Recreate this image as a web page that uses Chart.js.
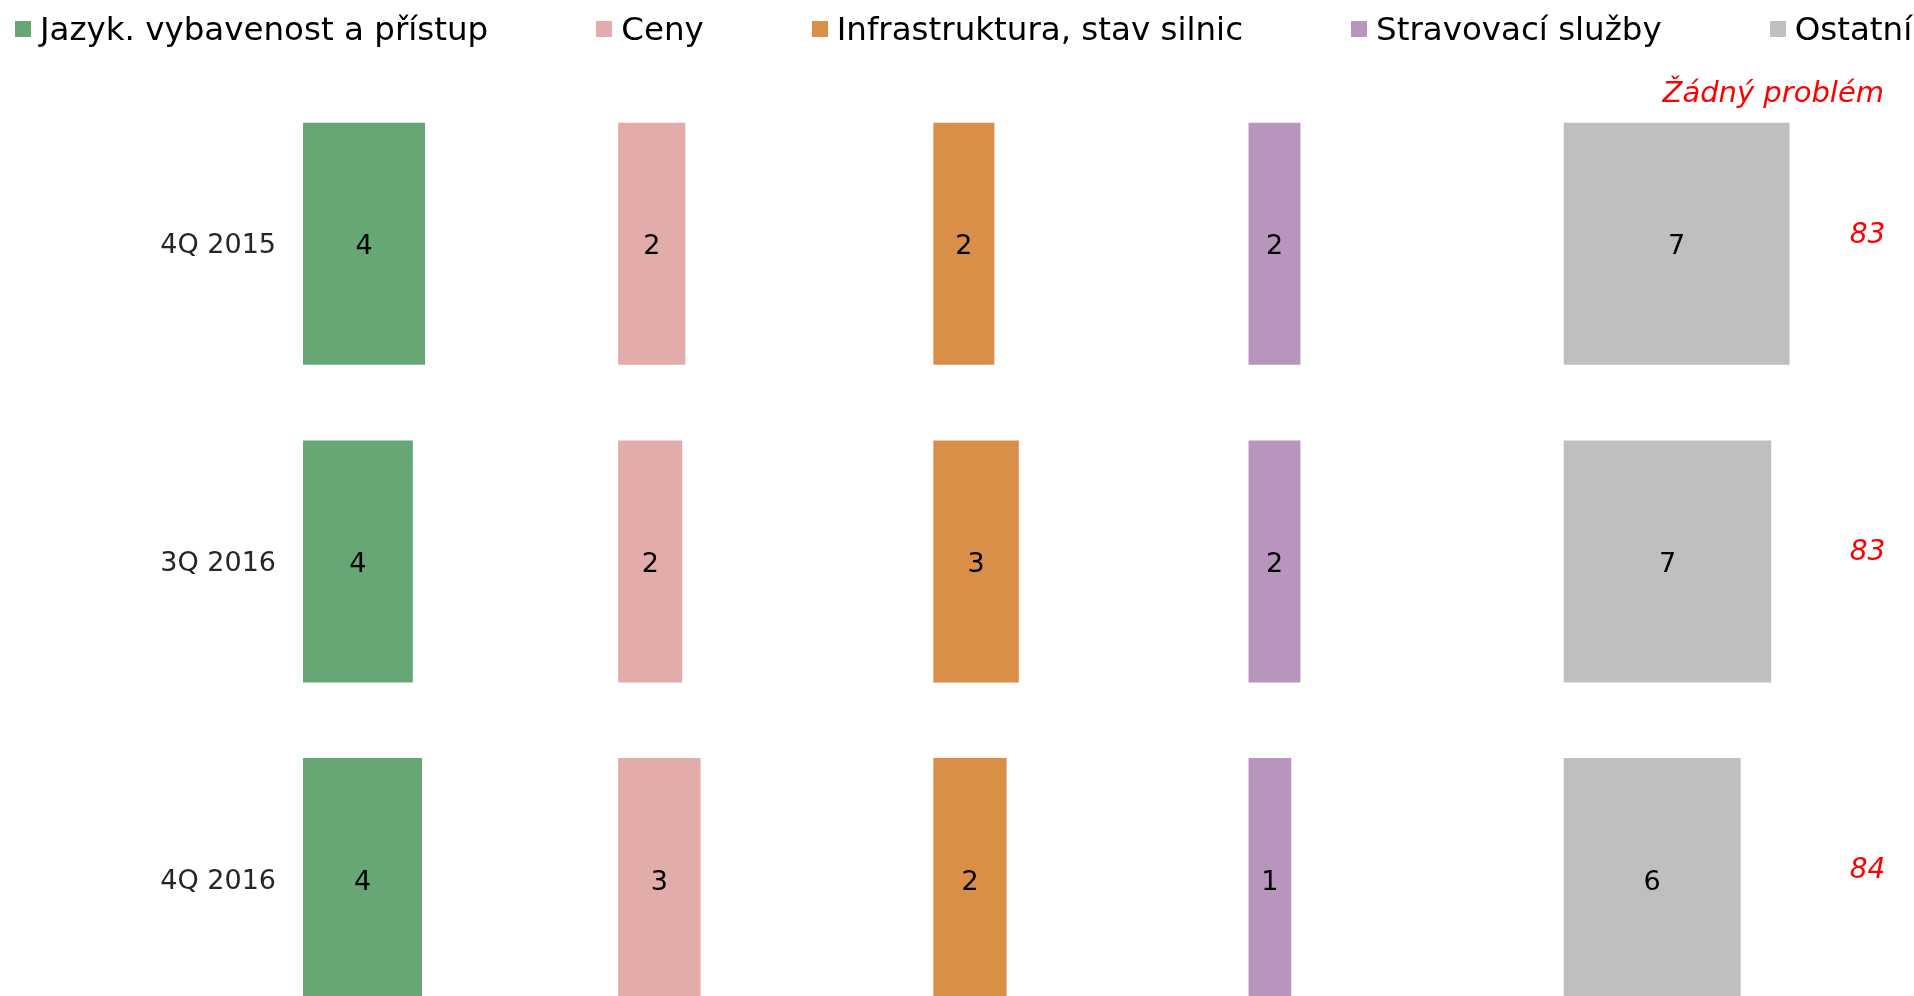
<!DOCTYPE html>
<html>
<head>
<meta charset="utf-8">
<script src="https://cdn.jsdelivr.net/npm/chart.js@4.4.1/dist/chart.umd.min.js"></script>
<style>
  html, body { margin: 0; padding: 0; background: #fff; overflow: hidden; }
  #wrap { position: relative; width: 1914px; height: 996px; overflow: hidden; }
  #chart { position: absolute; left: 0; top: 0; }
  #legend { position: absolute; left: 15px; top: 10px; display: flex; gap: 108px; z-index: 2;
            font-family: 'DejaVu Sans', Verdana, sans-serif; font-size: 32.5px; color: #000; white-space: nowrap; }
  #legend span.item { display: flex; align-items: center; }
  #legend span.sw { display: inline-block; width: 16px; height: 16px; margin-right: 9px; }
</style>
</head>
<body>
<div id="wrap">
  <canvas id="chart" width="1914" height="996"></canvas>
  <div id="legend"></div>
</div>
<script>
const periods = ["4Q 2015", "3Q 2016", "4Q 2016"];
const seriesNames = ["Jazyk. vybavenost a přístup", "Ceny", "Infrastruktura, stav silnic", "Stravovací služby", "Ostatní"];
const seriesColors = ["#67A776", "#E2ACAA", "#D98F48", "#B795BD", "#BFBFBF"];

const jazyk = [4.0, 3.6, 3.9];
const ceny = [2.2, 2.1, 2.7];
const infra = [2.0, 2.8, 2.4];
const strava = [1.7, 1.7, 1.4];
const ostatni = [7.4, 6.8, 5.8];
const zadnyProblem = [83, 83, 84];

const seriesValues = [jazyk, ceny, infra, strava, ostatni];

// each category gets its own column on the shared value axis
const COL_STEP = 10.33;
const NP_COL = 51.28;

const FONT = "'DejaVu Sans', Verdana, sans-serif";

// html legend
const legendEl = document.getElementById('legend');
seriesNames.forEach((name, i) => {
  const item = document.createElement('span');
  item.className = 'item';
  const sw = document.createElement('span');
  sw.className = 'sw';
  sw.style.background = seriesColors[i];
  item.appendChild(sw);
  item.appendChild(document.createTextNode(name));
  legendEl.appendChild(item);
});

const barLabels = {
  id: 'barLabels',
  afterDatasetsDraw(chart) {
    const ctx = chart.ctx;
    const xs = chart.scales.x;
    const ys = chart.scales.y;
    ctx.save();
    ctx.textAlign = 'center';
    ctx.textBaseline = 'middle';
    ctx.fillStyle = '#000';
    ctx.font = '27px ' + FONT;
    chart.data.datasets.forEach((ds, i) => {
      const meta = chart.getDatasetMeta(i);
      meta.data.forEach((bar, j) => {
        const p = bar.getCenterPoint();
        ctx.fillText(String(Math.round(seriesValues[i][j])), p.x, p.y + 3.5);
      });
    });
    // "Žádný problém" column
    ctx.fillStyle = '#FF0000';
    ctx.font = 'italic 28px ' + FONT;
    zadnyProblem.forEach((v, j) => {
      ctx.fillText(String(v), xs.getPixelForValue(NP_COL), ys.getPixelForValue(j) - 8.5);
    });
    ctx.textAlign = 'right';
    ctx.font = 'italic 29px ' + FONT;
    ctx.fillText('Žádný problém', 1884, 94);
    ctx.restore();
  }
};

new Chart(document.getElementById('chart'), {
  type: 'bar',
  data: {
    datasets: seriesValues.map((vals, i) => ({
      label: seriesNames[i],
      data: vals.map((v, j) => ({ x: [i * COL_STEP, i * COL_STEP + v], y: j })),
      backgroundColor: seriesColors[i],
      borderWidth: 0,
      grouped: false,
      barPercentage: 0.762,
      categoryPercentage: 1
    }))
  },
  options: {
    indexAxis: 'y',
    responsive: false,
    animation: false,
    layout: { padding: { top: 85, bottom: 0, left: 0, right: 0 } },
    plugins: {
      legend: { display: false },
      tooltip: { enabled: false }
    },
    scales: {
      x: {
        type: 'linear',
        display: false,
        min: 0,
        max: 52.8
      },
      y: {
        type: 'linear',
        reverse: true,
        offset: false,
        min: -0.5,
        max: 2.368,
        grid: { display: false, drawTicks: false, offset: false },
        border: { display: false },
        afterBuildTicks(scale) {
          scale.ticks = periods.map((p, i) => ({ value: i }));
        },
        ticks: {
          color: '#262626',
          font: { family: FONT, size: 27 },
          padding: 27,
          labelOffset: 2.5,
          callback: v => periods[v]
        },
        afterFit(scale) {
          scale.width = 303;
          // labels sit well inside the plot, no extra room needed above/below
          scale.paddingTop = 0;
          scale.paddingBottom = 0;
        }
      }
    }
  },
  plugins: [barLabels]
});
</script>
</body>
</html>
